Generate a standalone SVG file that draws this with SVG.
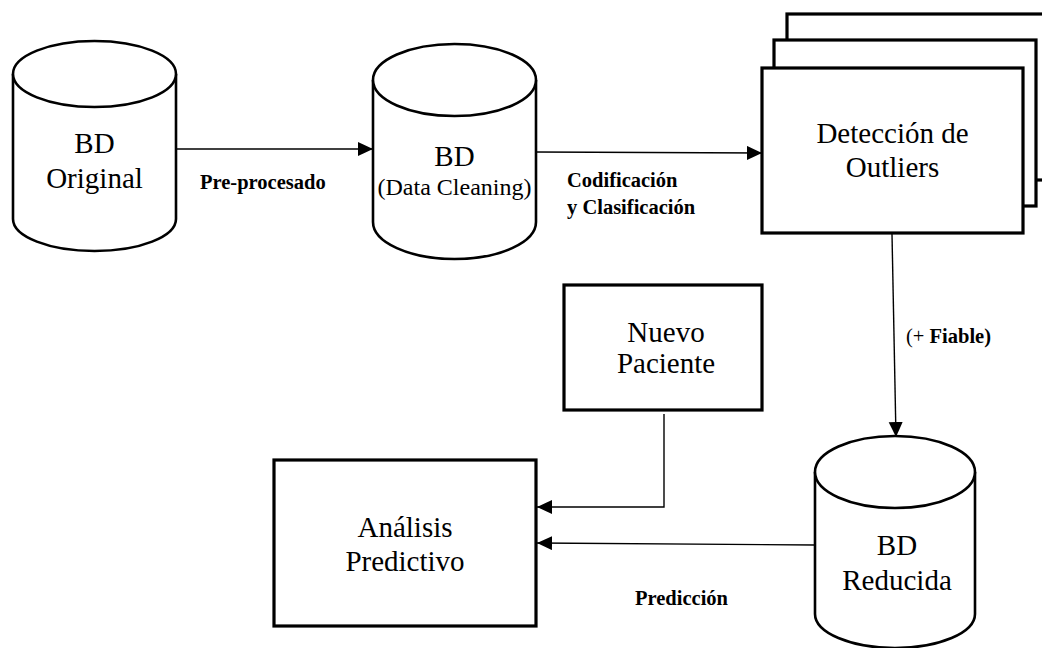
<svg xmlns="http://www.w3.org/2000/svg" width="1042" height="648" viewBox="0 0 1042 648">
  <style>
    .shape { fill: #ffffff; stroke: #000000; stroke-width: 2.6; }
    .box { fill: #ffffff; stroke: #000000; stroke-width: 3.2; }
    .edge { fill: none; stroke: #000000; stroke-width: 1.4; }
    .big { font-family: "Liberation Serif", "Times New Roman", serif; font-size: 29px; fill: #000000; text-anchor: middle; }
    .mid { font-family: "Liberation Serif", "Times New Roman", serif; font-size: 24px; fill: #000000; text-anchor: middle; }
    .lbl { font-family: "Liberation Serif", "Times New Roman", serif; font-size: 20.5px; font-weight: bold; fill: #000000; }
  </style>
  <defs>
    <marker id="arrow" markerUnits="userSpaceOnUse" markerWidth="16" markerHeight="15" refX="15" refY="7" orient="auto">
      <path d="M0,0 L15,7 L0,14 Z" fill="#000000"/>
    </marker>
  </defs>

  <!-- connectors -->
  <g id="connectors">
    <line class="edge" x1="176" y1="149" x2="373" y2="149" marker-end="url(#arrow)"/>
    <line class="edge" x1="536" y1="152" x2="762" y2="153" marker-end="url(#arrow)"/>
    <line class="edge" x1="892" y1="234" x2="896" y2="437" marker-end="url(#arrow)"/>
    <polyline class="edge" points="664,414 664,507 537,507" marker-end="url(#arrow)"/>
    <line class="edge" x1="815" y1="545" x2="537" y2="543" marker-end="url(#arrow)"/>
    <text class="lbl" x="200" y="189">Pre-procesado</text>
    <text class="lbl" x="567" y="187">Codificación</text>
    <text class="lbl" x="567" y="214">y Clasificación</text>
    <text class="lbl" x="906" y="343"><tspan font-weight="normal">(+ </tspan>Fiable)</text>
    <text class="lbl" x="635" y="605">Predicción</text>
  </g>

  <!-- database: original -->
  <g id="bd-original">
    <path class="shape" d="M13,74 L13,219 A81.5,32 0 0 0 176,219 L176,74"/>
    <ellipse class="shape" cx="94.5" cy="74" rx="81.5" ry="33"/>
    <text class="big" x="94.5" y="153">BD</text>
    <text class="big" x="94.5" y="188">Original</text>
  </g>

  <!-- database: data cleaning -->
  <g id="bd-cleaning">
    <path class="shape" d="M373,80 L373,222 A81.5,37 0 0 0 536,222 L536,80"/>
    <ellipse class="shape" cx="454.5" cy="80" rx="81.5" ry="36"/>
    <text class="big" x="454.5" y="166">BD</text>
    <text class="mid" x="454.5" y="195">(Data Cleaning)</text>
  </g>

  <!-- stacked outlier detection boxes -->
  <g id="deteccion-outliers">
    <rect class="box" x="787" y="14" width="265" height="166"/>
    <rect class="box" x="774" y="40" width="262" height="166"/>
    <rect class="box" x="762" y="68" width="261" height="165"/>
    <text class="big" x="892.5" y="143">Detección de</text>
    <text class="big" x="892.5" y="177">Outliers</text>
  </g>

  <!-- new patient -->
  <g id="nuevo-paciente">
    <rect class="box" x="564" y="285" width="198" height="125"/>
    <text class="big" x="666" y="342">Nuevo</text>
    <text class="big" x="666" y="373">Paciente</text>
  </g>

  <!-- predictive analysis -->
  <g id="analisis-predictivo">
    <rect class="box" x="274" y="460" width="262" height="166"/>
    <text class="big" x="405" y="537">Análisis</text>
    <text class="big" x="405" y="571">Predictivo</text>
  </g>

  <!-- database: reduced -->
  <g id="bd-reducida">
    <path class="shape" d="M815,472 L815,614 A80,34 0 0 0 975,614 L975,472"/>
    <ellipse class="shape" cx="895" cy="472" rx="80" ry="36"/>
    <text class="big" x="897" y="555">BD</text>
    <text class="big" x="897" y="590">Reducida</text>
  </g>
</svg>
